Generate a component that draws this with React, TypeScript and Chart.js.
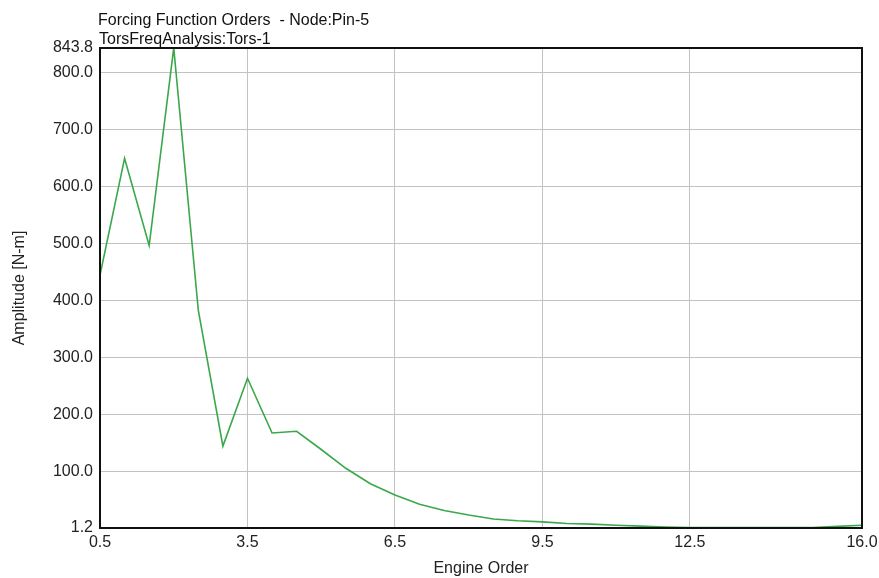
import React, { useEffect, useRef } from "react";
import { Chart, registerables } from "chart.js";

Chart.register(...registerables);

const titleLines = ["Forcing Function Orders  - Node:Pin-5", "TorsFreqAnalysis:Tors-1"];
const xAxisTitle = "Engine Order";
const yAxisTitle = "Amplitude [N-m]";

const engineOrders = [
  0.5, 1.0, 1.5, 2.0, 2.5, 3.0, 3.5, 4.0, 4.5, 5.0, 5.5, 6.0, 6.5, 7.0, 7.5, 8.0,
  8.5, 9.0, 9.5, 10.0, 10.5, 11.0, 11.5, 12.0, 12.5, 13.0, 13.5, 14.0, 14.5, 15.0, 15.5, 16.0,
];
const amplitudes = [
  445, 650, 497, 843.8, 383, 145, 264, 168, 171, 139, 106, 79, 59, 43, 32, 24,
  17, 14, 12, 9, 8, 6, 4.5, 3, 2.2, 2, 2, 2, 2, 2.2, 4, 6,
];
const xTicks = [0.5, 3.5, 6.5, 9.5, 12.5, 16.0];
const yTicks = [1.2, 100, 200, 300, 400, 500, 600, 700, 800, 843.8];
const xMin = 0.5;
const xMax = 16.0;
const yMin = 1.2;
const yMax = 843.8;

const FONT = '"Liberation Sans", Arial, sans-serif';
const FS = 16;

export default function App() {
  const ref = useRef<HTMLCanvasElement | null>(null);
  useEffect(() => {
    document.body.style.margin = "0";
    const canvas = ref.current;
    if (!canvas) return;
    Chart.defaults.font.family = FONT;
    Chart.defaults.font.size = FS;
    Chart.defaults.color = "#222";

    const headerPlugin = {
      id: "header",
      afterDraw(chart: any) {
        const { ctx, chartArea } = chart;
        ctx.save();
        ctx.font = `${FS}px ${FONT}`;
        ctx.fillStyle = "#111";
        ctx.textAlign = "left";
        ctx.textBaseline = "alphabetic";
        ctx.fillText(titleLines[0], chartArea.left - 2, 25);
        ctx.fillText(titleLines[1], chartArea.left - 1, 44);
        ctx.restore();
      },
    };
    const framePlugin = {
      id: "frame",
      afterDatasetsDraw(chart: any) {
        const { ctx, chartArea } = chart;
        ctx.save();
        ctx.strokeStyle = "#111";
        ctx.lineWidth = 2;
        ctx.strokeRect(chartArea.left, chartArea.top, chartArea.right - chartArea.left, chartArea.bottom - chartArea.top);
        ctx.restore();
      },
    };

    const chart = new Chart(canvas, {
      type: "line",
      data: {
        datasets: [
          {
            data: engineOrders.map((x, i) => ({ x, y: amplitudes[i] })),
            borderColor: "rgb(58,168,74)",
            borderWidth: 1.6,
            pointRadius: 0,
            fill: false,
            tension: 0,
          },
        ],
      },
      options: {
        animation: false,
        responsive: false,
        devicePixelRatio: 1,
        layout: { padding: { top: 48, right: 17, left: 0, bottom: 0 } },
        plugins: { legend: { display: false }, tooltip: { enabled: false }, title: { display: false } },
        scales: {
          x: {
            type: "linear",
            min: xMin,
            max: xMax,
            afterBuildTicks: (s: any) => {
              s.ticks = xTicks.map((v) => ({ value: v }));
            },
            afterFit: (s: any) => {
              s.height = 50;
              s.paddingLeft = 0;
              s.paddingRight = 0;
            },
            ticks: {
              padding: 5,
              maxRotation: 0,
              autoSkip: false,
              color: "#222",
              font: { size: FS },
              callback: (v: any) => Number(v).toFixed(1),
            },
            grid: { color: "#c2c2c2", lineWidth: 1, drawTicks: false },
            border: { display: false },
            title: { display: true, text: xAxisTitle, color: "#222", font: { size: FS }, padding: { top: 0, bottom: 0 } },
          },
          y: {
            type: "linear",
            min: yMin,
            max: yMax,
            afterBuildTicks: (s: any) => {
              s.ticks = yTicks.map((v) => ({ value: v }));
            },
            afterFit: (s: any) => {
              s.width = 100;
              s.paddingTop = 0;
              s.paddingBottom = 0;
            },
            ticks: {
              padding: 7,
              autoSkip: false,
              color: "#222",
              font: { size: FS },
              callback: (v: any) => Number(v).toFixed(1),
            },
            grid: { color: "#c2c2c2", lineWidth: 1, drawTicks: false },
            border: { display: false },
            title: { display: true, text: yAxisTitle, color: "#222", font: { size: FS }, padding: { top: 10, bottom: 0 } },
          },
        },
      },
      plugins: [framePlugin, headerPlugin],
    });
    return () => chart.destroy();
  }, []);
  return <canvas ref={ref} width={879} height={578} style={{ display: "block", width: 879, height: 578 }} />;
}
